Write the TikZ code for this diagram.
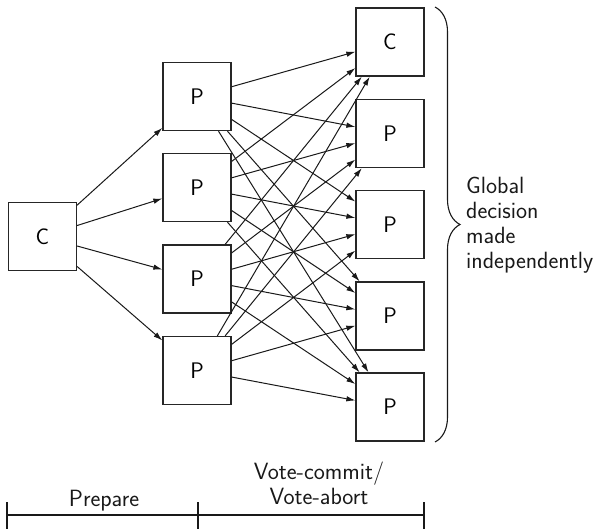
\documentclass[tikz,border=0pt]{standalone}
\usetikzlibrary{arrows.meta,decorations.pathreplacing}
\begin{document}
\begin{tikzpicture}[x=1pt,y=-1pt,
  box/.style={draw=black!85,line width=1.3pt,minimum size=68pt,inner sep=0pt,
    font=\sffamily\fontsize{22.5}{25}\selectfont},
  msg/.style={draw=black!90,line width=1pt,-{Latex[length=9pt,width=5.5pt]}},
  lbl/.style={font=\sffamily\fontsize{23.5}{25}\selectfont,inner sep=0pt,text=black!90},
  rule/.style={draw=black!90,line width=1.1pt},
  bracket/.style={draw=black!90,line width=1.1pt,decorate,
    decoration={brace,amplitude=25pt}}]
\useasboundingbox (0,0) rectangle (596,529);

% coordinator
\node[box] (c0) at (42.5,236.5) {C};

% participants, first phase
\node[box] (p1) at (197,96.5) {P};
\node[box] (p2) at (197,187.5) {P};
\node[box] (p3) at (197,279) {P};
\node[box] (p4) at (197,370.5) {P};

% all sites after the vote exchange
\node[box] (r0) at (390,42) {C};
\node[box] (r1) at (390,133.5) {P};
\node[box] (r2) at (390,224.5) {P};
\node[box] (r3) at (390,316) {P};
\node[box] (r4) at (390,407) {P};

% prepare messages
\foreach \i in {1,...,4} \draw[msg] (c0) -- (p\i);

% votes sent to every site
\foreach \i in {1,...,4}
  \foreach \j in {0,...,4}
    \draw[msg] (p\i) -- (r\j);

% brace and its label
\coordinate (bt) at (435,7);
\coordinate (bb) at (435,442);
\draw[bracket] (bt) -- (bb);
\node[lbl,anchor=north west,align=left] (gd) at (466,176.5)
  {Global\\decision\\made\\independently};

% phase timeline
\coordinate (t0) at (7,515);
\coordinate (t1) at (198,515);
\coordinate (t2) at (424,515);
\draw[rule] (t0) -- (t2);
\foreach \t in {t0,t1,t2}
  \draw[rule] (\t) ++(0,-13) -- ++(0,30);
\node[lbl,anchor=base] (prep) at (104,506) {Prepare};
\node[lbl,anchor=south,align=center] (vote) at (319,505)
  {Vote-commit/\\Vote-abort};
\end{tikzpicture}
\end{document}
